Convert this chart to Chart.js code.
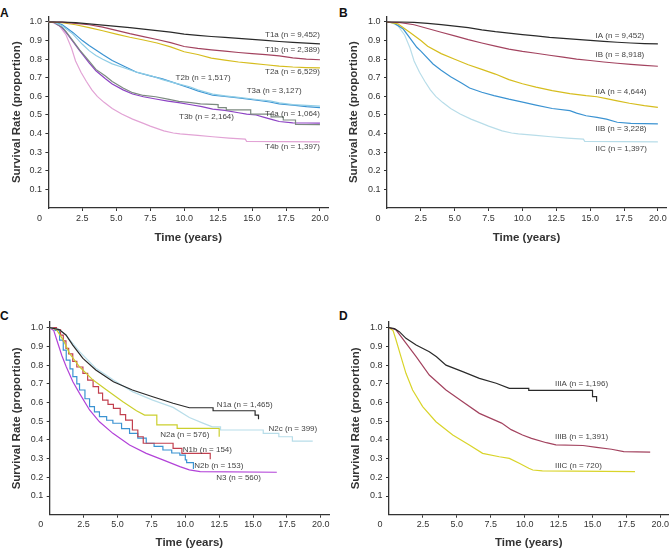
<!DOCTYPE html>
<html><head><meta charset="utf-8">
<script src="https://cdn.jsdelivr.net/npm/chart.js@4.4.1/dist/chart.umd.min.js"></script>
<style>
html,body{margin:0;padding:0;background:#fff}
body{width:672px;height:553px;position:relative;overflow:hidden}
canvas{position:absolute}
.letter{position:absolute;font:bold 12px "Liberation Sans",Arial,sans-serif;line-height:1;color:#111}
</style></head><body>
<div class="letter" style="left:0px;top:6.6px">A</div>
<div class="letter" style="left:339px;top:6.6px">B</div>
<div class="letter" style="left:0px;top:310px">C</div>
<div class="letter" style="left:339px;top:310px">D</div>
<canvas id="cA" width="336" height="270" style="left:0;top:0"></canvas>
<canvas id="cB" width="336" height="270" style="left:336px;top:0"></canvas>
<canvas id="cC" width="336" height="273" style="left:0;top:280px"></canvas>
<canvas id="cD" width="336" height="273" style="left:336px;top:280px"></canvas>
<script>
// ---------- shared ticks ----------
const xTicks = [2.5, 5, 7.5, 10, 12.5, 15, 17.5, 20];
const yTicks = [0.1, 0.2, 0.3, 0.4, 0.5, 0.6, 0.7, 0.8, 0.9, 1.0];
const xTitle = 'Time (years)';
const yTitle = 'Survival Rate (proportion)';

// ---------- Panel A (T category) ----------
const yr = [0,1,2,3,4,5,6,7,8,9,10,11,12,13,14,15,16,17,18,19,20];
const t1aS = [1,1,0.997,0.99,0.983,0.976,0.97,0.962,0.954,0.945,0.935,0.928,0.922,0.917,0.912,0.907,0.901,0.895,0.89,0.886,0.882];
const t1bS = [1,0.999,0.992,0.985,0.972,0.955,0.937,0.921,0.906,0.889,0.868,0.858,0.85,0.843,0.836,0.83,0.824,0.818,0.807,0.8,0.797];
const t2aS = [1,0.996,0.985,0.97,0.953,0.935,0.918,0.903,0.887,0.866,0.84,0.825,0.806,0.795,0.785,0.777,0.77,0.763,0.758,0.755,0.753];
const t2T  = [0,0.5,1,1.8,2.5,3,3.5,4,4.7,5.5,6.5,7.5,8.4,9.4,10.4,11,12.1,13,14,14.6,15.5,16.3,17,18,19,20];
const t2bS = [1,0.997,0.98,0.935,0.88,0.846,0.82,0.8,0.775,0.755,0.73,0.712,0.69,0.67,0.652,0.635,0.612,0.603,0.595,0.59,0.582,0.576,0.565,0.556,0.552,0.548];
const t3aS = [1,0.998,0.986,0.944,0.9,0.873,0.85,0.825,0.793,0.765,0.73,0.71,0.694,0.67,0.645,0.63,0.606,0.6,0.592,0.586,0.578,0.57,0.56,0.553,0.545,0.54];
const t3bT = [0,0.4,1,1.3,1.8,2.3,3,3.5,4.2,4.7,5.5,6.2,7,7.9,8.8,9.6,10.5,11.3,12.1,13,14,14.6,15.3,15.9,16.5,17,18,19,20];
const t3bS = [1,0.998,0.97,0.944,0.895,0.846,0.78,0.738,0.695,0.667,0.635,0.613,0.598,0.586,0.575,0.566,0.555,0.545,0.532,0.525,0.512,0.505,0.5,0.487,0.475,0.465,0.458,0.457,0.456];
const t4aT = [0,0.4,1,1.3,1.8,2.3,3,3.5,4.2,4.7,5.5,6.2,7,7.9,8.8,9.6,10.5,11.2,12.5,12.5,13.1,13.1,14.9,14.9,16.4,16.4,17.3,17.3,18.2,18.2,20];
const t4aS = [1,0.998,0.972,0.948,0.9,0.85,0.79,0.745,0.71,0.68,0.645,0.62,0.605,0.598,0.585,0.573,0.566,0.56,0.556,0.54,0.54,0.527,0.527,0.505,0.505,0.49,0.49,0.473,0.473,0.45,0.448];
const t4bT = [0,0.3,0.8,1.3,1.7,2,2.4,2.8,3.2,3.6,4.1,4.7,5.4,6.2,7,7.5,8.5,9.2,9.7,11,12.1,13.3,14.5,14.6,20];
const t4bS = [1,0.998,0.98,0.93,0.86,0.79,0.73,0.68,0.635,0.6,0.568,0.535,0.505,0.478,0.455,0.44,0.415,0.403,0.398,0.39,0.383,0.376,0.37,0.358,0.356];

// ---------- Panel B (stage I-II) ----------
const iaS  = [1,1,0.998,0.993,0.986,0.978,0.97,0.958,0.948,0.94,0.932,0.925,0.917,0.912,0.906,0.901,0.896,0.891,0.887,0.884,0.882];
const ibS  = [1,0.997,0.985,0.965,0.945,0.925,0.905,0.887,0.87,0.854,0.842,0.832,0.821,0.811,0.8,0.793,0.785,0.778,0.772,0.767,0.762];
const iiaT = [0,0.8,1.7,2.5,3,4,5,6,7,8,9,10,11,12.2,13.5,14.7,15.5,16.2,17,17.9,19,20];
const iiaS = [1,0.99,0.944,0.9,0.87,0.83,0.8,0.77,0.745,0.72,0.69,0.668,0.65,0.631,0.615,0.604,0.598,0.588,0.576,0.563,0.55,0.541];
const iibT = [0,0.5,1.2,2.2,2.5,3.4,4,4.7,5.5,6.1,7,7.9,9,10.1,11,12.2,13.5,14,14.7,15.5,16.2,17,18,20];
const iibS = [1,0.995,0.962,0.864,0.843,0.774,0.74,0.705,0.672,0.645,0.622,0.604,0.585,0.568,0.553,0.535,0.523,0.51,0.496,0.487,0.478,0.461,0.455,0.452];
const iicT = [0,0.3,0.8,1.3,1.7,2,2.4,2.8,3.2,3.6,4.1,4.7,5.4,6.2,7,7.5,8.5,9.2,9.7,11,12.1,13.3,14.5,14.6,20];
const iicS = [1,0.998,0.98,0.93,0.86,0.79,0.73,0.68,0.635,0.6,0.568,0.535,0.505,0.478,0.455,0.44,0.415,0.403,0.398,0.39,0.383,0.376,0.37,0.358,0.356];

// ---------- Panel C (N category) ----------
const n1aT = [0,0.7,1.2,1.7,2.45,3.4,4.7,6.1,7.6,9.1,10.3,12.05,12.05,15.15,15.15,15.4,15.4];
const n1aS = [1,0.99,0.961,0.907,0.836,0.774,0.711,0.667,0.631,0.596,0.572,0.572,0.556,0.556,0.533,0.533,0.51];
const n2cT = [0,0.7,1.2,2.2,3.4,4.7,6.1,7.6,9.1,10.3,11.3,12.0,12.6,12.6,15.75,15.75,16.9,16.9,17.9,17.9,19.4];
const n2cS = [1,0.99,0.96,0.872,0.783,0.72,0.658,0.613,0.574,0.52,0.49,0.47,0.47,0.453,0.453,0.435,0.435,0.417,0.417,0.394,0.394];
const n2aT = [0,0.5,1.0,1.46,2.2,3.2,4.2,5.4,6.4,7.0,7.9,7.9,9.4,9.4,12.5,12.5];
const n2aS = [1,0.99,0.934,0.863,0.791,0.72,0.667,0.604,0.556,0.533,0.533,0.48,0.48,0.462,0.462,0.417];
const n1bT = [0,0.5,0.8,1.0,1.2,1.4,1.7,2.0,2.45,2.8,3.2,3.6,3.9,4.3,4.7,5.2,5.6,6.1,6.5,6.9,9.1,9.75,11.84];
const n1bS = [1,0.99,0.96,0.93,0.89,0.86,0.82,0.79,0.756,0.72,0.685,0.65,0.613,0.59,0.569,0.535,0.506,0.453,0.417,0.382,0.355,0.328,0.296];
const n2bT = [0,0.4,0.73,1.0,1.22,1.5,1.71,2.0,2.2,2.6,2.94,3.3,3.67,4.2,4.66,5.3,5.89,6.5,7.12,7.7,8.35,9.0,9.6,10.0,10.1,10.6];
const n2bS = [1,0.985,0.934,0.88,0.827,0.78,0.738,0.7,0.667,0.62,0.578,0.55,0.524,0.505,0.489,0.46,0.435,0.41,0.382,0.365,0.346,0.33,0.319,0.293,0.278,0.245];
const n3T  = [0,0.3,0.6,0.9,1.22,1.71,2.2,2.94,3.67,4.66,5.89,7.12,8.35,9.6,10.3,11.1,16.75];
const n3S  = [1,0.985,0.917,0.85,0.791,0.711,0.649,0.56,0.497,0.435,0.373,0.328,0.293,0.257,0.24,0.23,0.227];

// ---------- Panel D (stage III) ----------
const iiiaT = [0,0.4,0.76,1.25,2.0,2.97,3.5,4.2,5.43,6.66,7.9,8.87,10.3,10.3,15.0,15.0,15.3,15.3];
const iiiaS = [1,0.995,0.979,0.943,0.907,0.872,0.845,0.8,0.765,0.729,0.703,0.676,0.676,0.665,0.665,0.631,0.631,0.604];
const iiibT = [0,0.5,1.25,2.0,2.97,4.2,5.43,6.66,7.5,8.3,9.0,9.84,10.5,11.6,12.3,14.3,15.3,16.4,17.3,19.25];
const iiibS = [1,0.99,0.917,0.845,0.747,0.667,0.604,0.542,0.515,0.49,0.455,0.426,0.408,0.385,0.373,0.37,0.36,0.35,0.337,0.335];
const iiicT = [0,0.3,0.52,0.88,1.25,1.74,2.48,3.46,4.7,5.92,6.9,8.13,8.87,9.6,10.3,10.6,11.3,18.13];
const iiicS = [1,0.985,0.934,0.845,0.756,0.667,0.578,0.497,0.426,0.373,0.328,0.31,0.301,0.275,0.248,0.239,0.234,0.23];

// ---------- styling ----------
const FONT = '"Liberation Sans",Arial,Helvetica,sans-serif';
const TICK_SIZE = 9, LABEL_SIZE = 8, TITLE_SIZE = 11.5;
const TICK_LEN = 3, XPAD = 1.9, YPAD = 3.4;

function ds(label, t, s, color, stepped) {
  return { label, data: t.map((v, i) => ({ x: v, y: s[i] })), borderColor: color,
           borderWidth: 1.2, pointRadius: 0, tension: 0, fill: false, stepped: !!stepped };
}

function annotPlugin(items) {
  return {
    id: 'annot',
    afterDatasetsDraw(chart) {
      const { ctx, scales: { x, y }, chartArea } = chart;
      ctx.save();
      ctx.font = LABEL_SIZE + 'px ' + FONT;
      ctx.fillStyle = '#444';
      ctx.textBaseline = 'middle';
      items.forEach(it => {
        ctx.textAlign = it.align;
        ctx.fillText(it.text, x.getPixelForValue(it.t), y.getPixelForValue(it.s));
      });
      // shared origin label "0"
      ctx.font = TICK_SIZE + 'px ' + FONT;
      ctx.fillStyle = '#333';
      ctx.textAlign = 'right';
      ctx.fillText('0', chartArea.left - TICK_LEN - YPAD, chartArea.bottom + TICK_LEN + XPAD + TICK_SIZE * 0.6);
      ctx.restore();
    }
  };
}

function makeChart(id, datasets, items, L) {
  const axisCommon = {
    grid: { display: true, drawOnChartArea: false, drawTicks: true, tickLength: TICK_LEN, color: '#333', lineWidth: 1 },
    border: { display: true, color: '#333', width: 1.3 }
  };
  return new Chart(document.getElementById(id), {
    type: 'line',
    data: { datasets },
    options: {
      responsive: false, animation: false, devicePixelRatio: 1,
      layout: { padding: { left: 0, top: L.top, right: L.right, bottom: 0 } },
      plugins: { legend: { display: false }, tooltip: { enabled: false }, title: { display: false } },
      scales: {
        x: Object.assign({}, axisCommon, {
          type: 'linear', min: 0, max: 20.6,
          afterBuildTicks: a => { a.ticks = xTicks.map(v => ({ value: v })); },
          afterFit: s => { s.height = L.xh; },
          ticks: { autoSkip: false, maxRotation: 0, padding: XPAD, color: '#333',
                   font: { family: FONT, size: TICK_SIZE }, callback: v => Number(v).toFixed(1) },
          title: { display: true, text: xTitle, color: '#333',
                   font: { family: FONT, size: TITLE_SIZE, weight: 'bold' },
                   padding: { top: 0, bottom: L.xtb } }
        }),
        y: Object.assign({}, axisCommon, {
          type: 'linear', min: 0, max: 1.03,
          afterBuildTicks: a => { a.ticks = yTicks.map(v => ({ value: v })); },
          afterFit: s => { s.width = L.yw; },
          ticks: { autoSkip: false, padding: YPAD, color: '#333',
                   font: { family: FONT, size: TICK_SIZE }, callback: v => Number(v).toFixed(1) },
          title: { display: true, text: yTitle, color: '#333',
                   font: { family: FONT, size: TITLE_SIZE, weight: 'bold' },
                   padding: { top: L.ytp, bottom: 0 } }
        })
      }
    },
    plugins: [annotPlugin(items)]
  });
}

// colours
const BLACK = '#2a2a2a', MAROON = '#a3435f', GOLD = '#d6bd1e', LBLUE = '#8fcde6',
      BLUE = '#3b93d2', PURPLE = '#8d43c4', GREY = '#7c8a80', PINK = '#e2a3d5',
      PALE = '#b8dde9', LIME = '#cbcf2e', RED = '#c2404f', MAGENTA = '#b242d8', YEL = '#d9d42a';

makeChart('cA', [
  ds('T1a', yr, t1aS, BLACK),
  ds('T1b', yr, t1bS, MAROON),
  ds('T2a', yr, t2aS, GOLD),
  ds('T2b', t2T, t2bS, LBLUE),
  ds('T3a', t2T, t3aS, BLUE),
  ds('T4a', t4aT, t4aS, GREY),
  ds('T3b', t3bT, t3bS, PURPLE),
  ds('T4b', t4bT, t4bS, PINK)
], [
  { text: 'T1a (n = 9,452)', t: 20, s: 0.93, align: 'right' },
  { text: 'T1b (n = 2,389)', t: 20, s: 0.849, align: 'right' },
  { text: 'T2a (n = 6,529)', t: 20, s: 0.731, align: 'right' },
  { text: 'T2b (n = 1,517)', t: 9.37, s: 0.699, align: 'left' },
  { text: 'T3a (n = 3,127)', t: 14.6, s: 0.629, align: 'left' },
  { text: 'T4a (n = 1,064)', t: 20, s: 0.509, align: 'right' },
  { text: 'T3b (n = 2,164)', t: 9.62, s: 0.488, align: 'left' },
  { text: 'T4b (n = 1,397)', t: 20, s: 0.328, align: 'right' }
], { top: 16.4, right: 7.9, xh: 62, yw: 48.4, xtb: 24.8, ytp: 10.1 });

makeChart('cB', [
  ds('IA', yr, iaS, BLACK),
  ds('IB', yr, ibS, MAROON),
  ds('IIA', iiaT, iiaS, GOLD),
  ds('IIB', iibT, iibS, BLUE),
  ds('IIC', iicT, iicS, PALE)
], [
  { text: 'IA (n = 9,452)', t: 15.4, s: 0.925, align: 'left' },
  { text: 'IB (n = 8,918)', t: 15.4, s: 0.824, align: 'left' },
  { text: 'IIA (n = 4,644)', t: 15.4, s: 0.622, align: 'left' },
  { text: 'IIB (n = 3,228)', t: 15.4, s: 0.428, align: 'left' },
  { text: 'IIC (n = 1,397)', t: 15.4, s: 0.319, align: 'left' }
], { top: 16.4, right: 6, xh: 62, yw: 51, xtb: 24.8, ytp: 11.1 });

makeChart('cC', [
  ds('N1a', n1aT, n1aS, BLACK),
  ds('N2c', n2cT, n2cS, PALE),
  ds('N2a', n2aT, n2aS, LIME),
  ds('N1b', n1bT, n1bS, RED, true),
  ds('N2b', n2bT, n2bS, BLUE, true),
  ds('N3', n3T, n3S, MAGENTA)
], [
  { text: 'N1a (n = 1,465)', t: 12.33, s: 0.587, align: 'left' },
  { text: 'N2c (n = 399)', t: 16.14, s: 0.458, align: 'left' },
  { text: 'N2a (n = 576)', t: 8.15, s: 0.426, align: 'left' },
  { text: 'N1b (n = 154)', t: 9.82, s: 0.346, align: 'left' },
  { text: 'N2b (n = 153)', t: 10.66, s: 0.262, align: 'left' },
  { text: 'N3 (n = 560)', t: 12.28, s: 0.195, align: 'left' }
], { top: 42.1, right: 7, xh: 38.3, yw: 49.7, xtb: 2.8, ytp: 10.1 });

makeChart('cD', [
  ds('IIIA', iiiaT, iiiaS, BLACK),
  ds('IIIB', iiibT, iiibS, MAROON),
  ds('IIIC', iiicT, iiicS, YEL)
], [
  { text: 'IIIA (n = 1,196)', t: 12.23, s: 0.699, align: 'left' },
  { text: 'IIIB (n = 1,391)', t: 12.23, s: 0.414, align: 'left' },
  { text: 'IIIC (n = 720)', t: 12.23, s: 0.26, align: 'left' }
], { top: 42.1, right: 3.5, xh: 38.3, yw: 53, xtb: 2.8, ytp: 12.6 });
</script>
</body></html>
